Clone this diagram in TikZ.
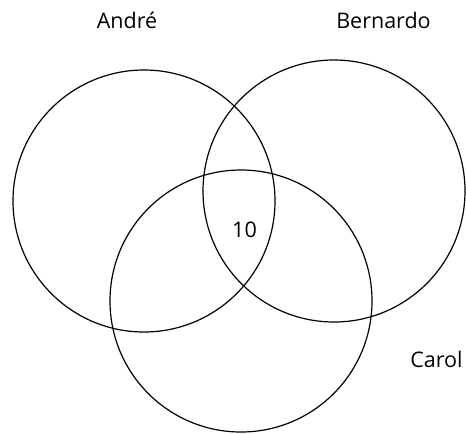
\documentclass[tikz,border=0pt]{standalone}
\usepackage{fontspec}
\setmainfont{Open Sans}
\usepackage{tikz}

\begin{document}
\begin{tikzpicture}[x=1pt, y=-1pt, every node/.style={font=\fontsize{21.5}{24}\selectfont},
	venn/.style={circle, draw, line width=1.2pt, minimum size=262pt, inner sep=0pt}]
	\useasboundingbox (0,0) rectangle (466,434);
	\node[venn] (andre) at (144,201) {};
	\node[venn] (bernardo) at (334,191) {};
	\node[venn] (carol) at (241,301) {};
	\node[anchor=base] (labA) at (127,28) {André};
	\node[anchor=base] (labB) at (383.5,28) {Bernardo};
	\node[anchor=base] (labC) at (436.5,367) {Carol};
	\node[anchor=base] (mid) at (244.5,237) {10};
\end{tikzpicture}
\end{document}
